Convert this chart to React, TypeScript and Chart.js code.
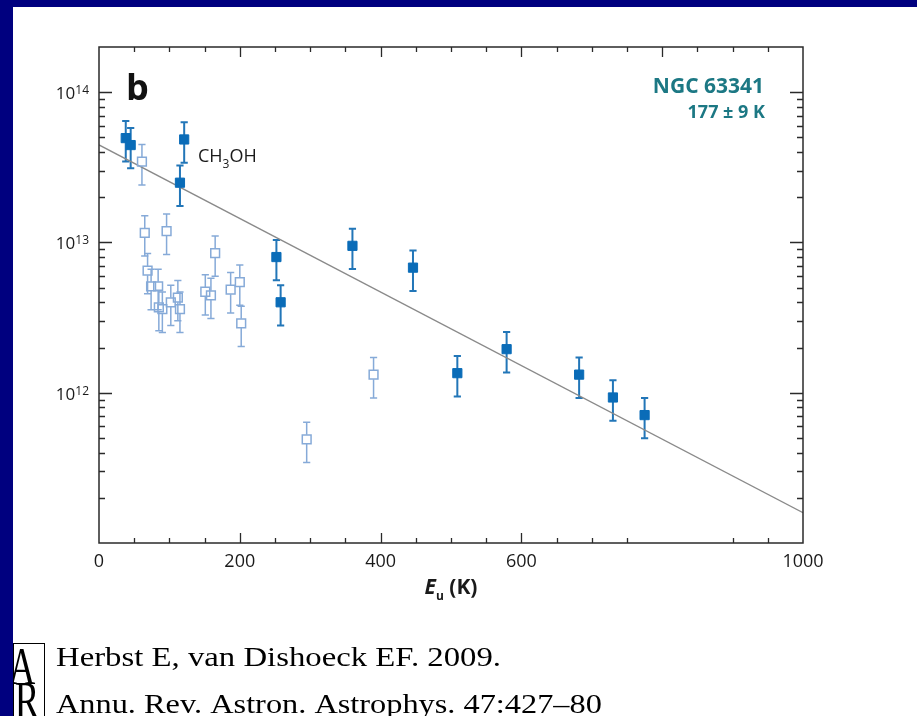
import React, { useEffect, useRef } from "react";
import { Chart, registerables } from "chart.js";

Chart.register(...registerables);

// ---------- data ----------
const E_FILLED = [38, 45, 115, 121, 252, 258, 360, 446, 509, 579, 682, 730, 775];
const N_FILLED = [4.95e13, 4.45e13, 2.5e13, 4.85e13, 8.0e12, 4.0e12, 9.5e12, 6.8e12, 1.35e12, 1.95e12, 1.32e12, 9.3e11, 7.1e11];

const E_OPEN = [61, 65, 69, 74, 84, 85, 90, 96, 102, 112, 115, 151, 159, 165, 187, 200, 202, 295, 390];
const N_OPEN = [3.45e13, 1.16e13, 6.5e12, 5.1e12, 5.1e12, 3.7e12, 3.6e12, 1.19e13, 4.0e12, 4.3e12, 3.6e12, 4.7e12, 4.45e12, 8.5e12, 4.85e12, 5.45e12, 2.9e12, 4.9e11, 1.32e12];

const REL_ERR = 0.3; // +-30% error bars

const FIT_E = [0, 1000];
const FIT_N = [4.46e13, 1.59e11];

const X_LABELS = [0, 200, 400, 600, 1000];
const X_BOTTOM_MISSING_TICKS = [800, 850];
const Y_DECADE_EXP = [12, 13, 14];

const SOURCE_NAME = "NGC 63341";
const TEMPERATURE = "177 \u00b1 9 K";
const CITATION_1 = "Herbst E, van Dishoeck EF. 2009.";
const CITATION_2 = "Annu. Rev. Astron. Astrophys. 47:427\u201380";

// ---------- styles ----------
const NAVY = "#00007f";
const FILLED_COLOR = "#0a6cb8";
const FILLED_ERR = "#2276b8";
const OPEN_COLOR = "#86aad8";
const FIT_COLOR = "#8a8a8a";
const AXIS_COLOR = "#2a2a2a";
const TEAL = "#1c7884";
const SANS = '"Open Sans", "Noto Sans", sans-serif';
const SERIF = '"Liberation Serif", "DejaVu Serif", serif';

function drawErrorBars(chart: any, E: number[], N: number[], color: string, lw: number, hollow: boolean) {
  const ctx = chart.ctx;
  const xs = chart.scales.x;
  const ys = chart.scales.y;
  ctx.save();
  ctx.strokeStyle = color;
  ctx.lineWidth = lw;
  const cap = 3.6;
  const half = 4.6;
  for (let i = 0; i < E.length; i++) {
    const x = xs.getPixelForValue(E[i]);
    const yc = ys.getPixelForValue(N[i]);
    const yt = ys.getPixelForValue(N[i] * (1 + REL_ERR));
    const yb = ys.getPixelForValue(N[i] * (1 - REL_ERR));
    ctx.beginPath();
    if (hollow) {
      ctx.moveTo(x, yt);
      ctx.lineTo(x, yc - half);
      ctx.moveTo(x, yc + half);
      ctx.lineTo(x, yb);
    } else {
      ctx.moveTo(x, yt);
      ctx.lineTo(x, yb);
    }
    ctx.moveTo(x - cap, yt);
    ctx.lineTo(x + cap, yt);
    ctx.moveTo(x - cap, yb);
    ctx.lineTo(x + cap, yb);
    ctx.stroke();
  }
  ctx.restore();
}

const decoPlugin = {
  id: "deco",
  beforeDraw(chart: any) {
    const ctx = chart.ctx;
    ctx.save();
    ctx.fillStyle = "#ffffff";
    ctx.fillRect(0, 0, chart.width, chart.height);
    ctx.restore();
  },
  beforeDatasetsDraw(chart: any) {
    drawErrorBars(chart, E_OPEN, N_OPEN, OPEN_COLOR, 1.5, true);
    drawErrorBars(chart, E_FILLED, N_FILLED, FILLED_ERR, 2, false);
  },
  afterDraw(chart: any) {
    const ctx = chart.ctx;
    const xs = chart.scales.x;
    const ys = chart.scales.y;
    const a = chart.chartArea;
    ctx.save();

    // frame
    ctx.strokeStyle = AXIS_COLOR;
    ctx.lineWidth = 1.5;
    ctx.strokeRect(a.left, a.top, a.right - a.left, a.bottom - a.top);

    // x ticks (every 50, major every 200)
    ctx.lineWidth = 1.3;
    ctx.beginPath();
    for (let v = 50; v < 1000; v += 50) {
      const x = Math.round(xs.getPixelForValue(v)) + 0.5;
      const len = v % 200 === 0 ? 10 : 5;
      ctx.moveTo(x, a.top);
      ctx.lineTo(x, a.top + len);
      if (X_BOTTOM_MISSING_TICKS.indexOf(v) < 0) {
        ctx.moveTo(x, a.bottom);
        ctx.lineTo(x, a.bottom - len);
      }
    }
    // y ticks (log)
    for (let e = 11; e <= 14; e++) {
      for (let m = 1; m <= 9; m++) {
        const v = m * Math.pow(10, e);
        if (v <= ys.min * 1.0001 || v >= ys.max * 0.9999) continue;
        const y = Math.round(ys.getPixelForValue(v)) + 0.5;
        const len = m === 1 ? 13 : 6;
        ctx.moveTo(a.left, y);
        ctx.lineTo(a.left + len, y);
        ctx.moveTo(a.right, y);
        ctx.lineTo(a.right - len, y);
      }
    }
    ctx.stroke();

    // x tick labels
    ctx.fillStyle = "#1a1a1a";
    ctx.font = `18px ${SANS}`;
    ctx.textAlign = "center";
    ctx.textBaseline = "alphabetic";
    for (const v of X_LABELS) {
      ctx.fillText(String(v), xs.getPixelForValue(v), a.bottom + 24);
    }

    // y tick labels 10^n
    for (const e of Y_DECADE_EXP) {
      const y = ys.getPixelForValue(Math.pow(10, e));
      ctx.font = `12px ${SANS}`;
      ctx.textAlign = "right";
      const sup = String(e);
      const supW = ctx.measureText(sup).width;
      const right = a.left - 10;
      ctx.fillText(sup, right, y + 2);
      ctx.font = `17px ${SANS}`;
      ctx.fillText("10", right - supW, y + 7);
    }

    // x-axis title E_u (K)
    {
      const cx = (a.left + a.right) / 2;
      const base = a.bottom + 51;
      ctx.textAlign = "left";
      ctx.font = `italic bold 21px ${SANS}`;
      const wE = ctx.measureText("E").width;
      ctx.font = `bold 12px ${SANS}`;
      const wu = ctx.measureText("u").width;
      ctx.font = `bold 21px ${SANS}`;
      const wK = ctx.measureText(" (K)").width;
      const total = wE + wu + wK;
      let x = cx - total / 2;
      ctx.font = `italic bold 21px ${SANS}`;
      ctx.fillText("E", x, base);
      x += wE;
      ctx.font = `bold 12px ${SANS}`;
      ctx.fillText("u", x, base + 6);
      x += wu;
      ctx.font = `bold 21px ${SANS}`;
      ctx.fillText(" (K)", x, base);
    }

    // panel letter
    ctx.fillStyle = "#111";
    ctx.font = `bold 36px ${SANS}`;
    ctx.textAlign = "left";
    ctx.fillText("b", 126, 100);

    // CH3OH
    {
      let x = 198;
      const base = 162;
      ctx.font = `18px ${SANS}`;
      ctx.fillStyle = "#1a1a1a";
      ctx.fillText("CH", x, base);
      x += ctx.measureText("CH").width;
      ctx.font = `12px ${SANS}`;
      ctx.fillText("3", x, base + 6);
      x += ctx.measureText("3").width;
      ctx.font = `18px ${SANS}`;
      ctx.fillText("OH", x, base);
    }

    // source & temperature
    ctx.fillStyle = TEAL;
    ctx.textAlign = "right";
    ctx.font = `bold 21px ${SANS}`;
    ctx.fillText(SOURCE_NAME, 764, 93);
    ctx.font = `bold 18px ${SANS}`;
    ctx.fillText(TEMPERATURE, 765, 118);

    // navy borders
    ctx.fillStyle = NAVY;
    ctx.fillRect(0, 0, chart.width, 7);
    ctx.fillRect(0, 0, 13, chart.height);

    // AR logo
    ctx.save();
    ctx.beginPath();
    ctx.rect(13, 643, 32, 73);
    ctx.clip();
    ctx.fillStyle = "#000";
    ctx.font = `46px ${SERIF}`;
    ctx.textAlign = "center";
    ctx.save();
    ctx.translate(22, 684);
    ctx.scale(0.8, 1.15);
    ctx.fillText("A", 0, 0);
    ctx.restore();
    ctx.save();
    ctx.translate(27, 718);
    ctx.scale(0.8, 1.15);
    ctx.fillText("R", 0, 0);
    ctx.restore();
    ctx.restore();
    ctx.strokeStyle = "#000";
    ctx.lineWidth = 1;
    ctx.strokeRect(13.5, 643.5, 31, 80);

    // citation (horizontally stretched Times)
    ctx.fillStyle = "#000";
    ctx.textAlign = "left";
    ctx.font = `28px ${SERIF}`;
    ctx.save();
    ctx.translate(56, 666);
    ctx.scale(1.17, 1);
    ctx.fillText(CITATION_1, 0, 0);
    ctx.restore();
    ctx.save();
    ctx.translate(56, 713);
    ctx.scale(1.155, 1);
    ctx.fillText(CITATION_2, 0, 0);
    ctx.restore();

    ctx.restore();
  },
};

export default function App() {
  const ref = useRef<HTMLCanvasElement | null>(null);

  useEffect(() => {
    document.body.style.margin = "0";
    const canvas = ref.current;
    if (!canvas) return;
    const chart = new Chart(canvas, {
      type: "scatter",
      data: {
        datasets: [
          {
            label: "fit",
            type: "line",
            data: FIT_E.map((e, i) => ({ x: e, y: FIT_N[i] })),
            borderColor: FIT_COLOR,
            borderWidth: 1.3,
            pointRadius: 0,
            fill: false,
            order: 10,
          } as any,
          {
            label: "open",
            data: E_OPEN.map((e, i) => ({ x: e, y: N_OPEN[i] })),
            pointStyle: "rect",
            pointRadius: 6.2,
            backgroundColor: "rgba(255,255,255,0)",
            borderColor: OPEN_COLOR,
            borderWidth: 1.5,
            order: 5,
          },
          {
            label: "filled",
            data: E_FILLED.map((e, i) => ({ x: e, y: N_FILLED[i] })),
            pointStyle: "rect",
            pointRadius: 6.5,
            backgroundColor: FILLED_COLOR,
            borderColor: FILLED_COLOR,
            borderWidth: 1,
            order: 1,
          },
        ],
      },
      options: {
        responsive: false,
        animation: false,
        devicePixelRatio: 1,
        layout: { padding: { left: 99, right: 114, top: 47, bottom: 173 } },
        plugins: { legend: { display: false }, tooltip: { enabled: false } },
        scales: {
          x: { type: "linear", min: 0, max: 1000, display: false },
          y: { type: "logarithmic", min: 1e11, max: 2e14, display: false },
        },
      },
      plugins: [decoPlugin],
    });
    return () => chart.destroy();
  }, []);

  return (
    <div style={{ width: 917, height: 716, position: "relative", background: "#fff" }}>
      <canvas ref={ref} width={917} height={716} style={{ width: 917, height: 716, display: "block" }} />
    </div>
  );
}
